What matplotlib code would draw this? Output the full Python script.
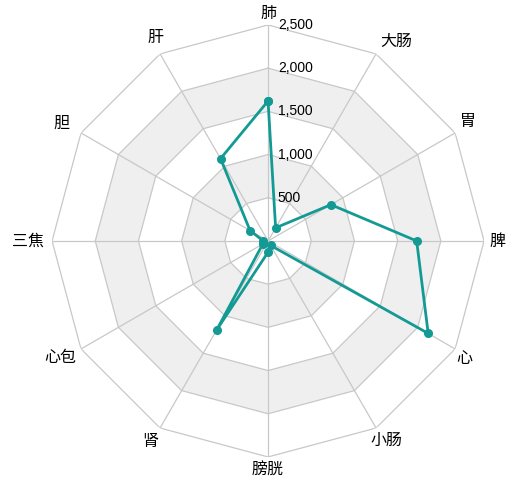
import numpy as np
import matplotlib
matplotlib.use('Agg')
import matplotlib.pyplot as plt

plt.rcParams['font.family'] = ['Noto Sans CJK SC', 'DejaVu Sans']

# 指标（顺时针，从顶部开始）
names = ['肺', '大肠', '胃', '脾', '心', '小肠', '膀胱', '肾', '心包', '三焦', '胆', '肝']
values = [1620, 175, 840, 1720, 2140, 60, 130, 1190, 70, 55, 240, 1100]
levels = [500, 1000, 1500, 2000, 2500]
max_val = 2500

# 指标名的对齐方式与偏移（像素）
name_align = ['center', 'left', 'left', 'left', 'left', 'left',
              'center', 'right', 'right', 'right', 'right', 'right']
name_offset = [(0, 11), (4, 13), (5, 11), (5, 0), (1, -10), (-6, -12),
               (0, -13), (-2, -13), (-5, -9), (-8, 0), (-12, 10), (3, 16)]

n = len(names)
angles = np.arange(n) * 2 * np.pi / n
closed = np.append(angles, angles[0])

fig = plt.figure(figsize=(5.15, 4.8), dpi=100)
ax = fig.add_axes([0.101, 0.048, 0.839, 0.9], projection='polar')
ax.set_theta_zero_location('N')
ax.set_theta_direction(-1)
ax.set_ylim(0, max_val)
ax.grid(False)
ax.spines['polar'].set_visible(False)
ax.set_yticks([])
ax.set_xticks([])

# 交替的分隔区域
fills = ['#ffffff', '#efefef', '#ffffff', '#efefef', '#ffffff']
for lv, c in reversed(list(zip(levels, fills))):
    ax.fill(closed, [lv] * (n + 1), color=c, zorder=1, lw=0)
for lv in levels:
    ax.plot(closed, [lv] * (n + 1), color='#c8c8c8', lw=0.9, zorder=2)
for a in angles:
    ax.plot([a, a], [0, max_val], color='#c8c8c8', lw=0.9, zorder=2)

# 数据
ax.plot(closed, values + values[:1], color='#139a94', lw=2, zorder=4,
        marker='o', markersize=5.5)

# 指标名
for a, name, ha, off in zip(angles, names, name_align, name_offset):
    ax.annotate(name, (a, max_val), xytext=off, textcoords='offset pixels',
                ha=ha, va='center', fontsize=11.5, annotation_clip=False)

# 刻度值
for lv in levels:
    ax.annotate(f'{lv:,}', (0, lv), xytext=(7, 0), textcoords='offset points',
                ha='left', va='center', fontsize=10, family='Liberation Sans',
                zorder=5)

fig.savefig('out.png', dpi=100)
